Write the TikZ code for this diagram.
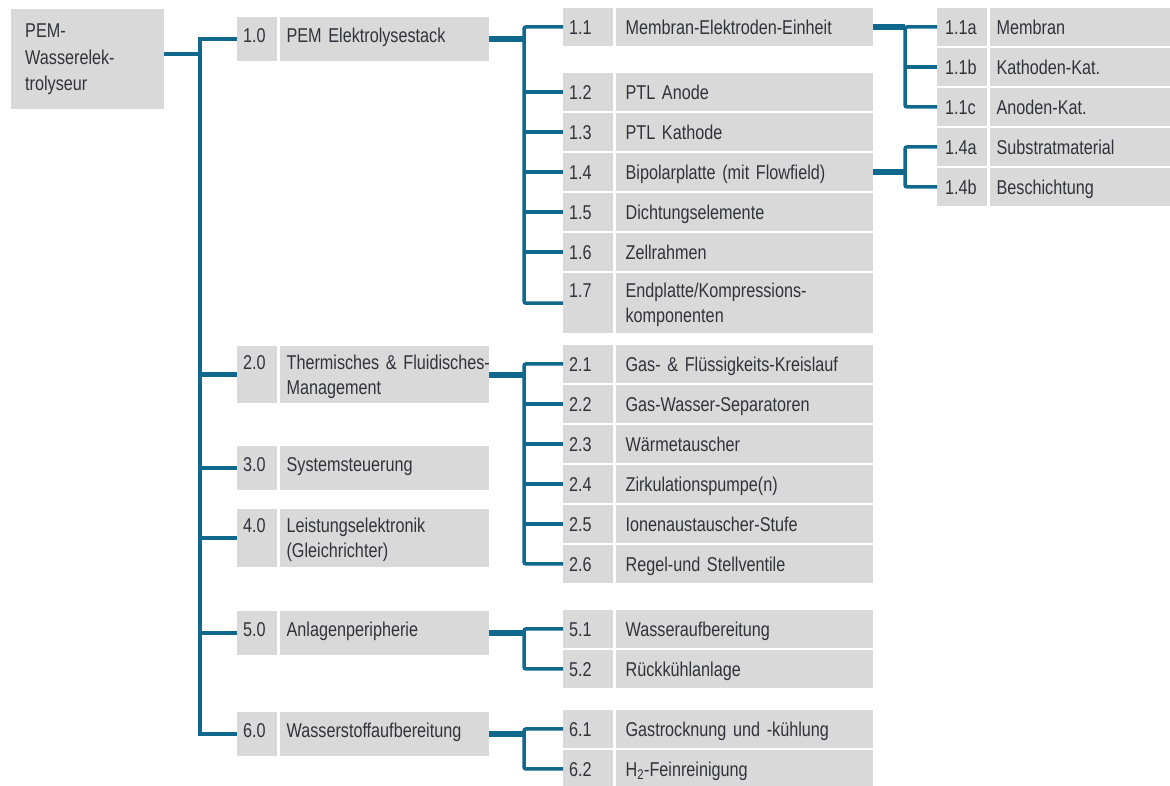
\documentclass[tikz,border=0pt]{standalone}
\usepackage{fontspec}
\setmainfont[FakeStretch=0.81]{Liberation Sans}
\usetikzlibrary{positioning}
\definecolor{linkblue}{RGB}{16,104,140}
\definecolor{boxgray}{RGB}{217,217,217}
\definecolor{inkgray}{RGB}{50,50,58}
\newcommand{\cellstrut}{\rule[-5.4pt]{0pt}{25pt}}
\newcommand{\cellfont}{\fontsize{20}{25}\selectfont\spaceskip=4pt plus 1pt\relax}

\begin{document}
\begin{tikzpicture}[x=1pt, y=-1pt,
  every node/.style={font=\cellfont, text=inkgray},
  cell/.style={fill=boxgray, anchor=north west, inner ysep=0pt, align=left,
    execute at begin node=\cellstrut, execute at end node=\cellstrut},
  lift/.style={execute at end node=\rule[-13.4pt]{0pt}{13.4pt}},
  rootbox/.style={cell, inner xsep=14pt, text width=125pt, minimum height=100pt,
    execute at end node=\rule[-10pt]{0pt}{10pt}},
  numA/.style={cell, inner xsep=6pt, text width=28pt, minimum height=44pt},
  lblA/.style={cell, inner xsep=7pt, text width=195pt, minimum height=44pt},
  numB/.style={cell, inner xsep=6pt, text width=38pt, minimum height=37.5pt},
  lblB/.style={cell, inner xsep=10pt, text width=237pt, minimum height=37.5pt},
  numC/.style={cell, inner xsep=8pt, text width=34pt, minimum height=37.5pt},
  lblC/.style={cell, inner xsep=7pt, text width=167pt, minimum height=37.5pt},
  trunk/.style={draw=linkblue, line width=4.5pt},
  stub/.style={draw=linkblue, line width=6pt},
  twig/.style={draw=linkblue, line width=3.5pt, rounded corners=2pt}]
  \useasboundingbox (0,0) rectangle (1170,785);

  \node[rootbox] (root) at (11,9) {PEM-\\[1.5pt]Wasserelek-\\[1.5pt]trolyseur};

  % first level
  \node[numA, lift] (n10) at (237,17) {1.0};
  \node[lblA, lift, right=2pt of n10] (t10) {PEM Elektrolysestack};
  \node[numA, minimum height=57pt] (n20) at (237,346) {2.0\\\mbox{}};
  \node[lblA, minimum height=57pt, right=2pt of n20] (t20) {\mbox{Thermisches \& Fluidisches-}\\Management};
  \node[numA, lift] (n30) at (237,446) {3.0};
  \node[lblA, lift, right=2pt of n30] (t30) {Systemsteuerung};
  \node[numA, minimum height=58pt] (n40) at (237,509) {4.0\\\mbox{}};
  \node[lblA, minimum height=58pt, right=2pt of n40] (t40) {Leistungselektronik\\(Gleichrichter)};
  \node[numA, lift] (n50) at (237,611) {5.0};
  \node[lblA, lift, right=2pt of n50] (t50) {Anlagenperipherie};
  \node[numA, lift] (n60) at (237,712) {6.0};
  \node[lblA, lift, right=2pt of n60] (t60) {Wasserstoffaufbereitung};

  % second level
  \node[numB] (n11) at (563,8) {1.1};
  \node[lblB, right=2pt of n11] (t11) {Membran-Elektroden-Einheit};
  \node[numB] (n12) at (563,73) {1.2};
  \node[lblB, right=2pt of n12] (t12) {PTL Anode};
  \node[numB] (n13) at (563,113) {1.3};
  \node[lblB, right=2pt of n13] (t13) {PTL Kathode};
  \node[numB] (n14) at (563,153) {1.4};
  \node[lblB, right=2pt of n14] (t14) {Bipolarplatte (mit Flowfield)};
  \node[numB] (n15) at (563,193) {1.5};
  \node[lblB, right=2pt of n15] (t15) {Dichtungselemente};
  \node[numB] (n16) at (563,233) {1.6};
  \node[lblB, right=2pt of n16] (t16) {Zellrahmen};
  \node[numB, minimum height=60pt] (n17) at (563,273) {1.7\\\mbox{}};
  \node[lblB, minimum height=60pt, right=2pt of n17] (t17) {Endplatte/Kompressions-\\komponenten};

  \node[numB] (n21) at (563,345) {2.1};
  \node[lblB, right=2pt of n21] (t21) {Gas- \& Flüssigkeits-Kreislauf};
  \node[numB] (n22) at (563,385) {2.2};
  \node[lblB, right=2pt of n22] (t22) {Gas-Wasser-Separatoren};
  \node[numB] (n23) at (563,425) {2.3};
  \node[lblB, right=2pt of n23] (t23) {Wärmetauscher};
  \node[numB] (n24) at (563,465) {2.4};
  \node[lblB, right=2pt of n24] (t24) {Zirkulationspumpe(n)};
  \node[numB] (n25) at (563,505) {2.5};
  \node[lblB, right=2pt of n25] (t25) {Ionenaustauscher-Stufe};
  \node[numB] (n26) at (563,545) {2.6};
  \node[lblB, right=2pt of n26] (t26) {Regel-und Stellventile};

  \node[numB] (n51) at (563,610) {5.1};
  \node[lblB, right=2pt of n51] (t51) {Wasseraufbereitung};
  \node[numB] (n52) at (563,650) {5.2};
  \node[lblB, right=2pt of n52] (t52) {Rückkühlanlage};

  \node[numB] (n61) at (563,710) {6.1};
  \node[lblB, right=2pt of n61] (t61) {Gastrocknung und -kühlung};
  \node[numB] (n62) at (563,750) {6.2};
  \node[lblB, right=2pt of n62] (t62) {H\textsubscript{2}-Feinreinigung};

  % third level
  \node[numC] (n11a) at (937,8) {1.1a};
  \node[lblC, right=2pt of n11a] (t11a) {Membran};
  \node[numC] (n11b) at (937,48) {1.1b};
  \node[lblC, right=2pt of n11b] (t11b) {Kathoden-Kat.};
  \node[numC] (n11c) at (937,88) {1.1c};
  \node[lblC, right=2pt of n11c] (t11c) {Anoden-Kat.};
  \node[numC] (n14a) at (937,128) {1.4a};
  \node[lblC, right=2pt of n14a] (t14a) {Substratmaterial};
  \node[numC] (n14b) at (937,168) {1.4b};
  \node[lblC, right=2pt of n14b] (t14b) {Beschichtung};

  % connectors
  \draw[trunk] (n10.west) -- ++(-37,0) coordinate (j0) |- (n60.west);
  \draw[trunk] ([yshift=5pt]root.east) -- ([yshift=5pt]root.east -| j0);
  \foreach \n in {n20,n30,n40,n50}
    \draw[trunk] (\n.west -| j0) -- (\n.west);

  \draw[twig] (n11.west) -- ++(-39,0) coordinate (j1) |- (n17.west);
  \draw[stub] (t10.east) -- (t10.east -| j1);
  \foreach \n in {n12,n13,n14,n15,n16}
    \draw[twig] (\n.west -| j1) -- (\n.west);

  \draw[twig] (n21.west) -- ++(-39,0) coordinate (j2) |- (n26.west);
  \draw[stub] (t20.east) -- (t20.east -| j2);
  \foreach \n in {n22,n23,n24,n25}
    \draw[twig] (\n.west -| j2) -- (\n.west);

  \draw[twig] (n51.west) -- ++(-39,0) coordinate (j5) |- (n52.west);
  \draw[stub] (t50.east) -- (t50.east -| j5);

  \draw[twig] (n61.west) -- ++(-39,0) coordinate (j6) |- (n62.west);
  \draw[stub] (t60.east) -- (t60.east -| j6);

  \draw[twig] (n11a.west) -- ++(-32,0) coordinate (k1) |- (n11c.west);
  \draw[stub] (t11.east) -- (t11.east -| k1);
  \draw[twig] (n11b.west -| k1) -- (n11b.west);

  \draw[twig] (n14a.west) -- ++(-32,0) coordinate (k4) |- (n14b.west);
  \draw[stub] (t14.east) -- (t14.east -| k4);
\end{tikzpicture}
\end{document}
